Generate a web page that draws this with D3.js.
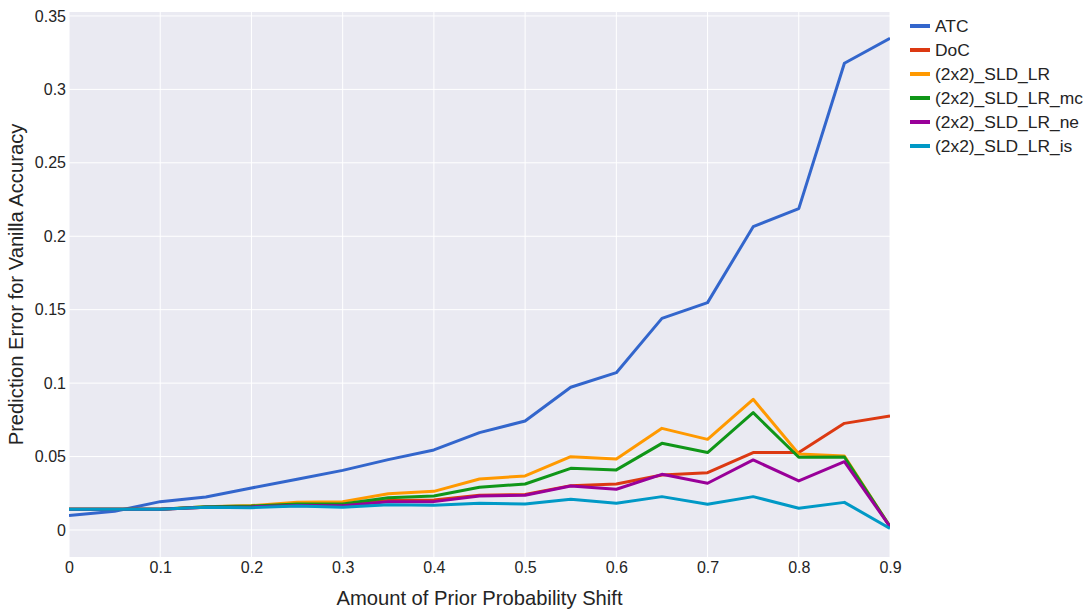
<!DOCTYPE html>
<html>
<head>
<meta charset="utf-8">
<script src="https://cdn.jsdelivr.net/npm/d3@7"></script>
<style>
  body { margin: 0; background: #fff; }
  svg { display: block; }
  text { font-family: "Liberation Sans", Arial, sans-serif; fill: #242424; }
</style>
</head>
<body>
<svg id="chart" width="1086" height="610"></svg>
<script>
const shifts = [0, 0.05, 0.1, 0.15, 0.2, 0.25, 0.3, 0.35, 0.4, 0.45, 0.5, 0.55, 0.6, 0.65, 0.7, 0.75, 0.8, 0.85, 0.9];
const seriesNames = ["ATC", "DoC", "(2x2)_SLD_LR", "(2x2)_SLD_LR_mc", "(2x2)_SLD_LR_ne", "(2x2)_SLD_LR_is"];
const seriesColors = ["#3366CC", "#DC3912", "#FF9900", "#109618", "#990099", "#0099C6"];
const atc   = [0.0098, 0.0127, 0.0193, 0.0225, 0.0286, 0.0345, 0.0406, 0.0479, 0.0545, 0.0663, 0.0742, 0.0972, 0.1071, 0.1441, 0.1548, 0.2065, 0.2188, 0.3178, 0.3348];
const doc   = [0.0141, 0.0141, 0.0141, 0.0155, 0.0159, 0.0168, 0.0170, 0.0200, 0.0204, 0.0236, 0.0241, 0.0302, 0.0313, 0.0375, 0.0390, 0.0527, 0.0527, 0.0726, 0.0776];
const sldLr = [0.0141, 0.0141, 0.0141, 0.0159, 0.0166, 0.0188, 0.0193, 0.0247, 0.0263, 0.0347, 0.0368, 0.0499, 0.0483, 0.0692, 0.0617, 0.0890, 0.0517, 0.0504, 0.0023];
const sldMc = [0.0141, 0.0141, 0.0141, 0.0159, 0.0163, 0.0177, 0.0177, 0.0220, 0.0232, 0.0291, 0.0313, 0.0420, 0.0409, 0.0590, 0.0527, 0.0799, 0.0495, 0.0497, 0.0023];
const sldNe = [0.0141, 0.0141, 0.0141, 0.0155, 0.0157, 0.0166, 0.0165, 0.0193, 0.0193, 0.0232, 0.0236, 0.0300, 0.0277, 0.0379, 0.0318, 0.0477, 0.0334, 0.0465, 0.0023];
const sldIs = [0.0141, 0.0141, 0.0141, 0.0154, 0.0152, 0.0163, 0.0154, 0.0172, 0.0168, 0.0182, 0.0177, 0.0209, 0.0182, 0.0227, 0.0175, 0.0227, 0.0148, 0.0188, 0.0011];
const xTicks = [0, 0.1, 0.2, 0.3, 0.4, 0.5, 0.6, 0.7, 0.8, 0.9];
const yTicks = [0, 0.05, 0.1, 0.15, 0.2, 0.25, 0.3, 0.35];
const xTitle = "Amount of Prior Probability Shift";
const yTitle = "Prediction Error for Vanilla Accuracy";

const seriesValues = [atc, doc, sldLr, sldMc, sldNe, sldIs];

const svg = d3.select("#chart");
const margin = { left: 69, right: 196, top: 12, bottom: 53 };
const W = 1086, H = 610;
const x = d3.scaleLinear().domain([0, 0.9]).range([margin.left, W - margin.right]);
const y = d3.scaleLinear().domain([-0.0184, 0.3527]).range([H - margin.bottom, margin.top]);

svg.append("rect")
  .attr("x", margin.left).attr("y", margin.top)
  .attr("width", x.range()[1] - x.range()[0])
  .attr("height", y.range()[0] - y.range()[1])
  .attr("fill", "#EAEAF2");

// grid
svg.append("g").selectAll("line").data(xTicks).join("line")
  .attr("x1", d => x(d)).attr("x2", d => x(d))
  .attr("y1", y.range()[1]).attr("y2", y.range()[0])
  .attr("stroke", "#fff").attr("stroke-width", 1);
svg.append("g").selectAll("line").data(yTicks).join("line")
  .attr("x1", x.range()[0]).attr("x2", x.range()[1])
  .attr("y1", d => y(d)).attr("y2", d => y(d))
  .attr("stroke", "#fff").attr("stroke-width", 1);

// axes
const fmt = d => d3.format("")(+d.toFixed(2));
const xAxis = svg.append("g")
  .attr("transform", `translate(0,${y.range()[0]})`)
  .call(d3.axisBottom(x).tickValues(xTicks).tickFormat(fmt).tickSize(0).tickPadding(5));
xAxis.select(".domain").remove();
xAxis.selectAll("text").attr("font-size", 16).attr("fill", "#242424")
  .style("font-family", '"Liberation Sans", Arial, sans-serif');

const yAxis = svg.append("g")
  .attr("transform", `translate(${x.range()[0]},0)`)
  .call(d3.axisLeft(y).tickValues(yTicks).tickFormat(fmt).tickSize(0).tickPadding(3));
yAxis.select(".domain").remove();
yAxis.selectAll("text").attr("font-size", 16).attr("fill", "#242424")
  .style("font-family", '"Liberation Sans", Arial, sans-serif');

// lines
const line = d3.line().x((d, i) => x(shifts[i])).y(d => y(d));
const clipId = "plotclip";
svg.append("clipPath").attr("id", clipId).append("rect")
  .attr("x", margin.left).attr("y", margin.top)
  .attr("width", x.range()[1] - x.range()[0])
  .attr("height", y.range()[0] - y.range()[1]);
svg.append("g").attr("clip-path", `url(#${clipId})`)
  .selectAll("path").data(seriesValues).join("path")
  .attr("d", d => line(d))
  .attr("fill", "none")
  .attr("stroke", (d, i) => seriesColors[i])
  .attr("stroke-width", 3)
  .attr("stroke-linejoin", "round");

// titles
svg.append("text")
  .attr("x", (x.range()[0] + x.range()[1]) / 2).attr("y", 605)
  .attr("text-anchor", "middle").attr("font-size", 20.2)
  .text(xTitle);
svg.append("text")
  .attr("transform", `translate(23,${(y.range()[0] + y.range()[1]) / 2}) rotate(-90)`)
  .attr("text-anchor", "middle").attr("font-size", 20.2)
  .text(yTitle);

// legend
const lg = svg.append("g").attr("transform", "translate(910,26)");
const items = lg.selectAll("g").data(seriesNames).join("g")
  .attr("transform", (d, i) => `translate(0,${i * 24})`);
items.append("line").attr("x1", 0).attr("x2", 20).attr("y1", 0).attr("y2", 0)
  .attr("stroke", (d, i) => seriesColors[i]).attr("stroke-width", 4);
items.append("text").attr("x", 25).attr("y", 0).attr("dy", "0.35em")
  .attr("font-size", 17.4).text(d => d);
</script>
</body>
</html>
